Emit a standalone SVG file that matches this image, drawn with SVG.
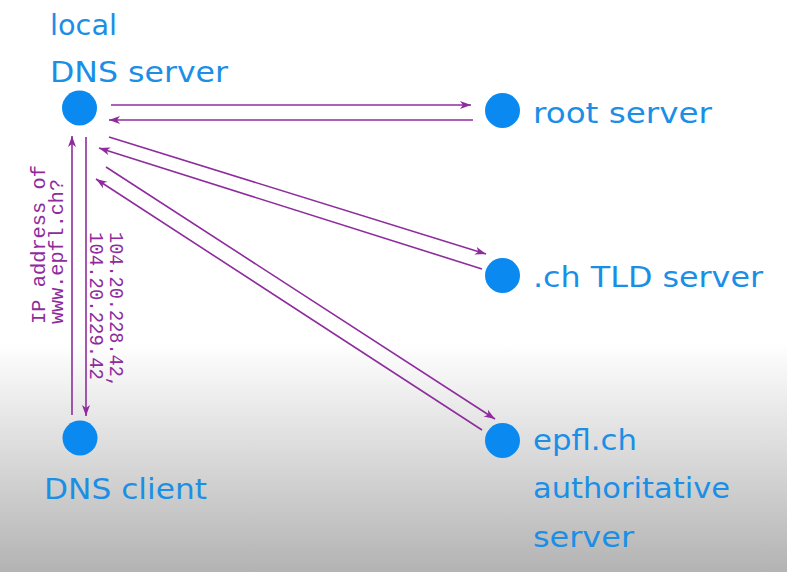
<svg xmlns="http://www.w3.org/2000/svg" width="787" height="572" viewBox="0 0 787 572">
  <defs>
    <linearGradient id="bg" x1="0" y1="0" x2="0" y2="572" gradientUnits="userSpaceOnUse">
      <stop offset="0" stop-color="#ffffff"/>
      <stop offset="0.6" stop-color="#ffffff"/>
      <stop offset="1" stop-color="#b3b3b3"/>
    </linearGradient>
    <marker id="ah" markerUnits="userSpaceOnUse" markerWidth="12" markerHeight="10" refX="11" refY="4.5" orient="auto">
      <path d="M0,0.5 L11,4.5 L0,8.5 L3,4.5 Z" fill="#8e2c9e"/>
    </marker>
    <style>
      .node { fill: #0a8af0; }
      .lbl { font-family: "DejaVu Sans", "Liberation Sans", sans-serif; font-size: 28px; fill: #1b8fe6; }
      .edge { stroke: #8e2c9e; stroke-width: 1.6; fill: none; marker-end: url(#ah); }
      .elbl { font-family: "Liberation Mono", "DejaVu Sans Mono", monospace; font-size: 20px; fill: #8e2c9e; }
    </style>
  </defs>
  <rect x="0" y="0" width="787" height="572" fill="url(#bg)"/>

  <g id="connectors">
    <line class="edge" x1="111" y1="105" x2="471" y2="105"/>
    <line class="edge" x1="473" y1="120" x2="109" y2="120"/>
    <line class="edge" x1="109" y1="137" x2="486" y2="254"/>
    <line class="edge" x1="482" y1="269" x2="99" y2="148"/>
    <line class="edge" x1="106" y1="167" x2="495" y2="419"/>
    <line class="edge" x1="482" y1="430" x2="96" y2="179"/>
    <line class="edge" x1="72" y1="415" x2="72" y2="136"/>
    <line class="edge" x1="86" y1="137" x2="86" y2="416"/>
    <text class="elbl" transform="translate(45,324) rotate(-90)" textLength="159" lengthAdjust="spacingAndGlyphs">IP address of</text>
    <text class="elbl" transform="translate(63,324) rotate(-90)" textLength="145" lengthAdjust="spacingAndGlyphs">www.epfl.ch?</text>
    <text class="elbl" transform="translate(110,232) rotate(90)" textLength="156" lengthAdjust="spacingAndGlyphs">104.20.228.42,</text>
    <text class="elbl" transform="translate(90,232) rotate(90)" textLength="148" lengthAdjust="spacingAndGlyphs">104.20.229.42</text>
  </g>

  <g id="local-dns">
    <circle class="node" cx="79.5" cy="108" r="17.5"/>
    <text class="lbl" x="50" y="35" textLength="67" lengthAdjust="spacingAndGlyphs">local</text>
    <text class="lbl" x="50" y="82" textLength="178" lengthAdjust="spacingAndGlyphs">DNS server</text>
  </g>
  <g id="root-server">
    <circle class="node" cx="502.5" cy="110.5" r="17.5"/>
    <text class="lbl" x="533" y="123" textLength="179" lengthAdjust="spacingAndGlyphs">root server</text>
  </g>
  <g id="tld-server">
    <circle class="node" cx="502.5" cy="275.5" r="17.5"/>
    <text class="lbl" x="533" y="287" textLength="230" lengthAdjust="spacingAndGlyphs">.ch TLD server</text>
  </g>
  <g id="epfl-server">
    <circle class="node" cx="502.5" cy="440.5" r="17.5"/>
    <text class="lbl" x="533" y="450" textLength="104" lengthAdjust="spacingAndGlyphs">epfl.ch</text>
    <text class="lbl" x="533" y="498" textLength="197" lengthAdjust="spacingAndGlyphs">authoritative</text>
    <text class="lbl" x="533" y="547" textLength="101" lengthAdjust="spacingAndGlyphs">server</text>
  </g>
  <g id="dns-client">
    <circle class="node" cx="80" cy="438" r="17.5"/>
    <text class="lbl" x="44" y="499" textLength="163" lengthAdjust="spacingAndGlyphs">DNS client</text>
  </g>
</svg>
